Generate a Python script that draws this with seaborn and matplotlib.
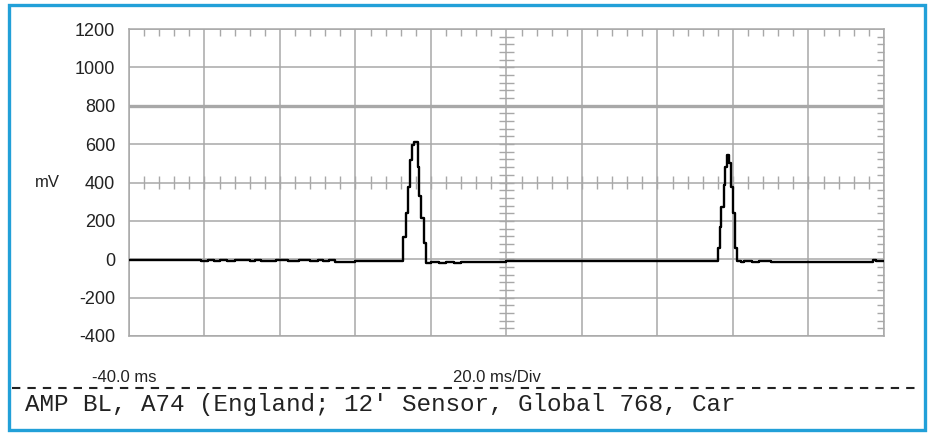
import numpy as np
import matplotlib
matplotlib.use("Agg")
import matplotlib.pyplot as plt
from matplotlib.patches import Rectangle
from matplotlib.lines import Line2D
import seaborn as sns

# scope trace (time in ms, amplitude in mV, step-held samples)
time_ms = [
    -40, -38.5, -37, -35.5, -34, -32, -30, -28, -25, -21,
    -19, -17.5, -16, -14, -12, -10, -8, -6.5, -5, -3,
    -1, 2, 5, 8, 10, 11.5, 13, 14.5, 16, 17.5,
    19, 20,
    32.5, 33.3, 33.9, 34.4, 34.9, 35.5, 36.5, 36.8, 37.3, 38.2, 38.7,
    40, 42, 44, 46, 48, 50, 52, 55, 60,
    116.0, 116.5, 116.9, 117.5, 118.0, 118.4, 119.0, 119.4, 119.9, 120.4, 121.0,
    122, 123, 125, 127, 130, 157, 158, 160,
]
trace_mv = [
    -2, -5, -2, -5, -3, -5, -5, -5, -5, -8,
    -3, -8, -5, -8, -3, -5, -8, -3, -8, -8,
    -5, -8, -3, -8, -5, -8, -5, -12, -16, -12,
    -16, -10,
    115, 240, 378, 517, 595, 612, 482, 330, 214, 84, -18,
    -15, -20, -15, -20, -15, -12, -15, -12, -10,
    57, 169, 273, 386, 482, 543, 500, 376, 240, 60, -10,
    -15, -10, -15, -10, -12, -5, -10, -10,
]

x_major = [-40, -20, 0, 20, 40, 60, 80, 100, 120, 140, 160]
y_major = [-400, -200, 0, 200, 400, 600, 800, 1000, 1200]
y_labels = ["-400", "-200", "0", "200", "400", "600", "800", "1000", "1200"]

grid_col = "#a8a8a8"
sns.set_style("white")
plt.rcParams["font.family"] = ["Liberation Sans", "DejaVu Sans"]
plt.rcParams["axes.unicode_minus"] = False

fig = plt.figure(figsize=(9.29, 4.33), dpi=100)
ax = fig.add_axes([129 / 929, 97 / 433, 755 / 929, 307 / 433])

sns.lineplot(x=time_ms, y=trace_mv, ax=ax, color="black", lw=1.7,
             drawstyle="steps-post", estimator=None, sort=False, zorder=5)

ax.set_xlim(x_major[0], x_major[-1])
ax.set_ylim(y_major[0], y_major[-1])
ax.set_xticks(x_major)
ax.set_xticklabels([])
ax.set_yticks(y_major)
ax.set_yticklabels(y_labels, fontsize=13)
ax.set_xticks(np.arange(-40, 161, 4), minor=True)
ax.set_yticks(np.arange(-400, 1201, 40), minor=True)
ax.tick_params(which="both", direction="in", top=True, right=True,
               color=grid_col, width=1.0)
ax.tick_params(which="major", length=0, pad=10, labelcolor="#222222")
ax.tick_params(which="minor", length=5)

ax.grid(True, which="major", color=grid_col, lw=1.1)
ax.axhline(800, color=grid_col, lw=2.4, zorder=1)
for s in ax.spines.values():
    s.set_color(grid_col)
    s.set_linewidth(1.1)

# crossing ticks on the centre graticule lines
ax.vlines(np.arange(-36, 160, 4), 400 - 34, 400 + 34, color=grid_col, lw=1.0)
ax.hlines(np.arange(-360, 1200, 40), 58, 62, color=grid_col, lw=1.0)
ax.set_xlabel("")
ax.set_ylabel("")

fig.text(47 / 929, 1 - 182 / 433, "mV", fontsize=12, ha="center", va="center", color="#222222")
fig.text(92 / 929, 1 - 377 / 433, "-40.0 ms", fontsize=12, ha="left", va="center", color="#222222")
fig.text(453 / 929, 1 - 377 / 433, "20.0 ms/Div", fontsize=12, ha="left", va="center", color="#222222")
fig.add_artist(Line2D([12 / 929, 916 / 929], [1 - 388 / 433] * 2, transform=fig.transFigure,
                      color="#222222", lw=1.5, dashes=(4, 3.4)))
fig.text(25 / 929, 1 - 404 / 433, "AMP BL, A74 (England; 12' Sensor, Global 768, Car",
         fontsize=17.5, family="Liberation Mono", ha="left", va="center", color="#222222")

fig.add_artist(Rectangle((9.5 / 929, 3 / 433), 915.5 / 929, 425 / 433, transform=fig.transFigure,
                         fill=False, edgecolor="#22a0d8", lw=2.4))

fig.savefig("out.png", dpi=100, facecolor="white")
